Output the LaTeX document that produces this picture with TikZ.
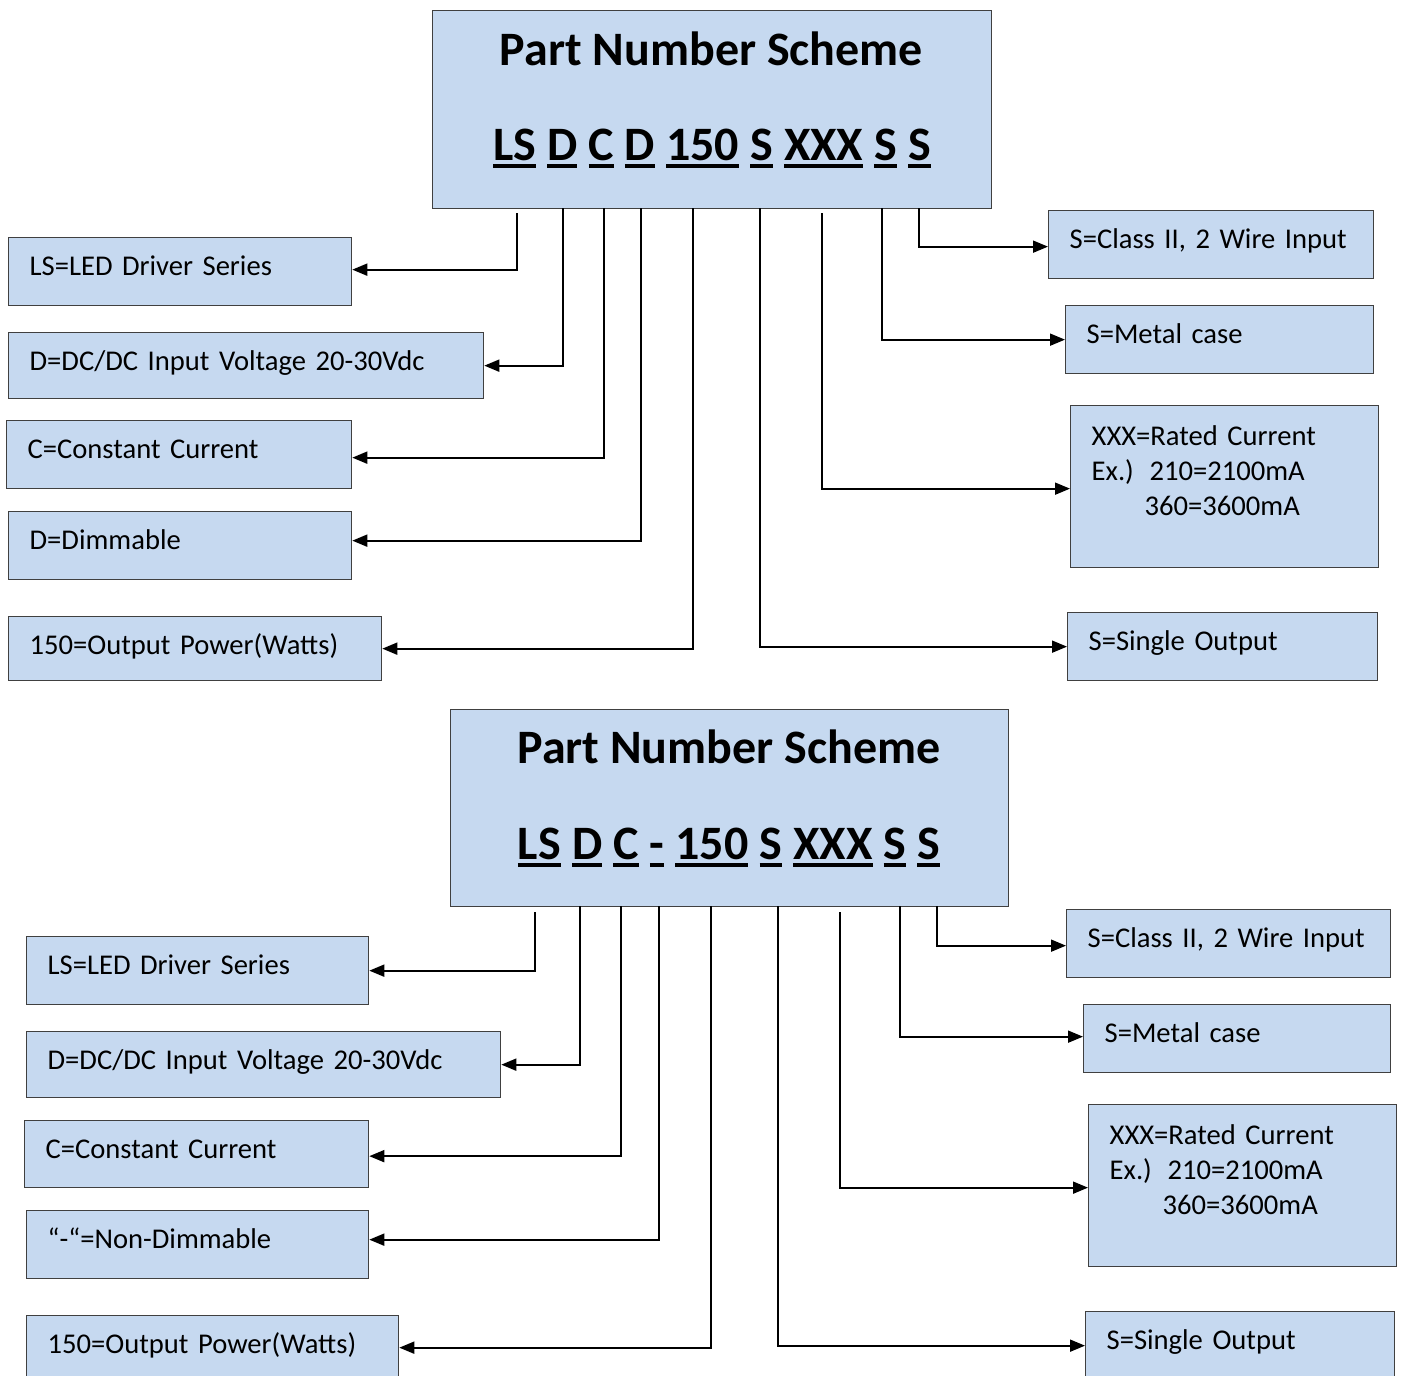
\documentclass[tikz,border=0pt]{standalone}
\usepackage{fontspec}
\setmainfont{Carlito}
\usetikzlibrary{arrows.meta}
\definecolor{boxblue}{HTML}{C6D9F0}
\newcommand\ulx[1]{\setbox0\hbox{#1}\rlap{\rule[-8pt]{\wd0}{4pt}}\box0\relax}
\newcommand\ulsp{\hspace*{0.23em}}
\begin{document}
\begin{tikzpicture}[x=1pt,y=-1pt,
  box/.style={draw=black!75, line width=1.3pt, fill=boxblue},
  mainbox/.style={box, anchor=north west, inner sep=0pt},
  lbl/.style={box, anchor=north west, inner xsep=21pt, inner ysep=0pt, align=left,
    font=\fontsize{28.6}{35}\selectfont, text height=38pt, text depth=30pt},
  ttl/.style={font=\fontsize{48}{58}\selectfont\bfseries, anchor=base, inner sep=0pt},
  conn/.style={line width=1.8pt, -{Triangle[length=15pt,width=12pt]}}]
\useasboundingbox (0,0) rectangle (1401,1376);
\clip (0,0) rectangle (1401,1376);

% ---------- upper scheme ----------
\node[mainbox, minimum width=559pt, minimum height=198pt] (mA) at (432,10) {};
\node[ttl] (tA) at (711.5,65) {Part Number Scheme};
\node[ttl] (cA) at (712,160) {\ulx{LS}\ulsp\ulx{D}\ulsp\ulx{C}\ulsp\ulx{D}\ulsp\ulx{150}\ulsp\ulx{S}\ulsp\ulx{XXX}\ulsp\ulx{S}\ulsp\ulx{S}};

\node[lbl, text width=301pt] (lsA) at (8,237) {LS=LED Driver Series};
\node[lbl, text width=433pt, text depth=28pt] (dcA) at (8,332) {D=DC/DC Input Voltage 20-30Vdc};
\node[lbl, text width=303pt] (ccA) at (6,420) {C=Constant Current};
\node[lbl, text width=301pt] (dmA) at (8,511) {D=Dimmable};
\node[lbl, text width=331pt, text depth=26pt] (pwA) at (8,616) {150=Output Power(Watts)};

\node[lbl, text width=283pt] (clA) at (1048,210) {S=Class II, 2 Wire Input};
\node[lbl, text width=266pt] (mcA) at (1065,305) {S=Metal case};
\node[lbl, text width=266pt, text height=40pt, text depth=122pt] (rcA) at (1070,405)
  {XXX=Rated Current\\Ex.)\hspace{0.55em}210=2100mA\\\hspace*{53pt}360=3600mA};
\node[lbl, text width=268pt] (soA) at (1067,612) {S=Single Output};

\coordinate (a1) at (517,213);
\coordinate (a2) at (563,208);
\coordinate (a3) at (604,208);
\coordinate (a4) at (641,208);
\coordinate (a5) at (693,208);
\coordinate (a6) at (760,208);
\coordinate (a7) at (822,213);
\coordinate (a8) at (882,208);
\coordinate (a9) at (919,208);

\draw[conn] (a1) |- ([yshift=2pt]lsA.east);
\draw[conn] (a2) |- (dcA.east);
\draw[conn] (a3) |- ([yshift=-3pt]ccA.east);
\draw[conn] (a4) |- ([yshift=5pt]dmA.east);
\draw[conn] (a5) |- (pwA.east);
\draw[conn] (a6) |- (soA.west);
\draw[conn] (a7) |- ([yshift=-2pt]rcA.west);
\draw[conn] (a8) |- (mcA.west);
\draw[conn] (a9) |- ([yshift=-2pt]clA.west);

% ---------- lower scheme ----------
\node[mainbox, minimum width=558pt, minimum height=197pt] (mB) at (450,709) {};
\node[ttl] (tB) at (729,763) {Part Number Scheme};
\node[ttl] (cB) at (729,859) {\ulx{LS}\ulsp\ulx{D}\ulsp\ulx{C}\ulsp\ulx{-}\ulsp\ulx{150}\ulsp\ulx{S}\ulsp\ulx{XXX}\ulsp\ulx{S}\ulsp\ulx{S}};

\node[lbl, text width=300pt] (lsB) at (26,936) {LS=LED Driver Series};
\node[lbl, text width=432pt, text depth=28pt] (dcB) at (26,1031) {D=DC/DC Input Voltage 20-30Vdc};
\node[lbl, text width=302pt, text depth=29pt] (ccB) at (24,1120) {C=Constant Current};
\node[lbl, text width=300pt] (ndB) at (26,1210) {“-“=Non-Dimmable};
\node[lbl, text width=330pt, text depth=26pt] (pwB) at (26,1315) {150=Output Power(Watts)};

\node[lbl, text width=282pt] (clB) at (1066,909) {S=Class II, 2 Wire Input};
\node[lbl, text width=265pt] (mcB) at (1083,1004) {S=Metal case};
\node[lbl, text width=266pt, text height=40pt, text depth=122pt] (rcB) at (1088,1104)
  {XXX=Rated Current\\Ex.)\hspace{0.55em}210=2100mA\\\hspace*{53pt}360=3600mA};
\node[lbl, text width=267pt] (soB) at (1085,1311) {S=Single Output};

\coordinate (b1) at (535,912);
\coordinate (b2) at (580,906);
\coordinate (b3) at (621,906);
\coordinate (b4) at (659,906);
\coordinate (b5) at (711,906);
\coordinate (b6) at (778,906);
\coordinate (b7) at (840,912);
\coordinate (b8) at (900,906);
\coordinate (b9) at (937,906);

\draw[conn] (b1) |- (lsB.east);
\draw[conn] (b2) |- (dcB.east);
\draw[conn] (b3) |- ([yshift=-2pt]ccB.east);
\draw[conn] (b4) |- ([yshift=5pt]ndB.east);
\draw[conn] (b5) |- (pwB.east);
\draw[conn] (b6) |- (soB.west);
\draw[conn] (b7) |- ([yshift=-2pt]rcB.west);
\draw[conn] (b8) |- ([yshift=2pt]mcB.west);
\draw[conn] (b9) |- ([yshift=-2pt]clB.west);
\end{tikzpicture}
\end{document}
